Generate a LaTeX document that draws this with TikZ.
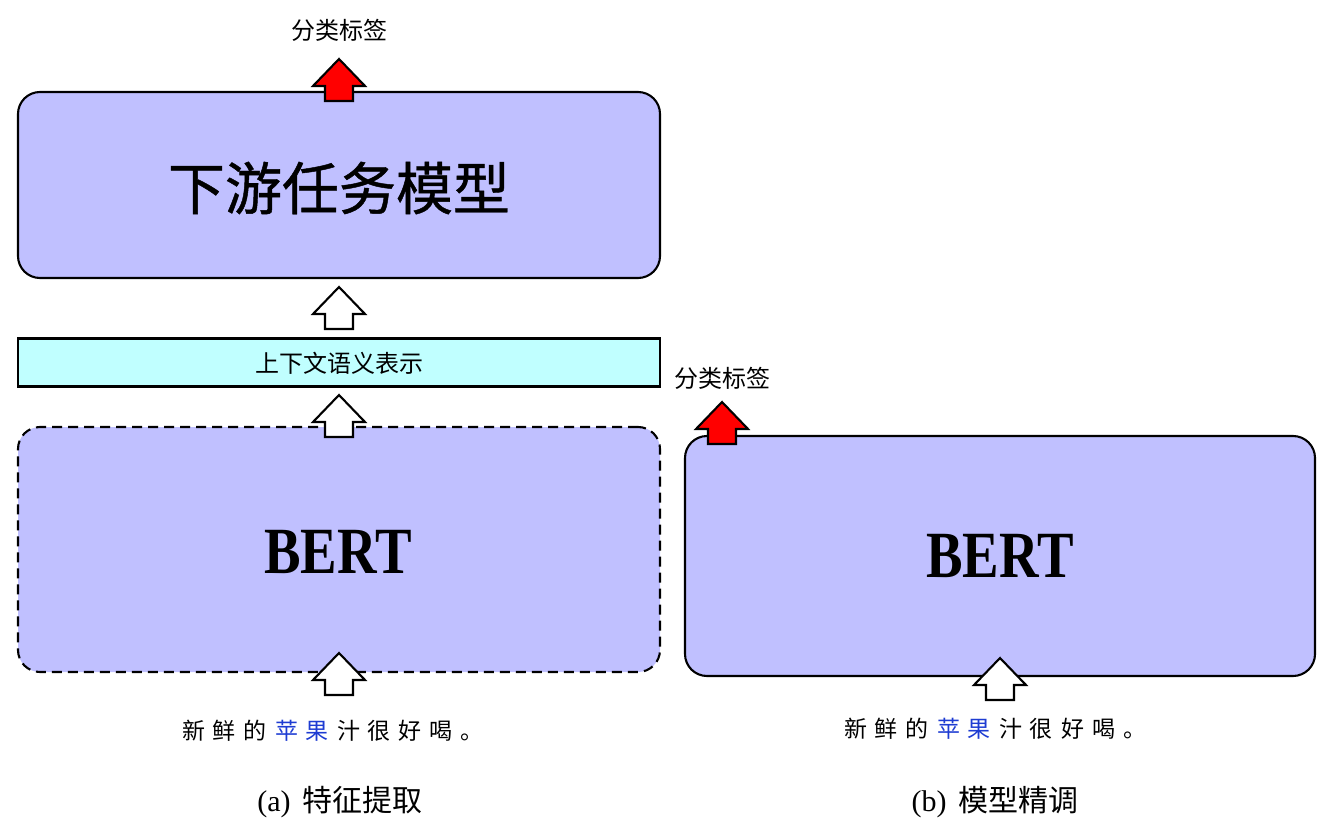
\documentclass[tikz,border=0pt]{standalone}
\usepackage{fontspec}
\setmainfont{Liberation Serif}
\newfontfamily\cjk{Noto Sans CJK SC}
\newfontfamily\cjkb[FakeBold=0.8]{Noto Sans CJK SC}
\usepackage{graphicx}
\definecolor{boxblue}{RGB}{192,192,255}
\definecolor{boxcyan}{RGB}{192,255,255}
\definecolor{wordblue}{RGB}{30,60,210}
\newcommand\gp{\hspace{8pt}}
\tikzset{
  bigbox/.style={draw=black, line width=2.1pt, fill=boxblue, rounded corners=22pt, inner sep=0pt},
  flatbox/.style={draw=black, line width=2.1pt, fill=boxcyan, inner sep=0pt},
  txt/.style={inner sep=0pt, text=black},
  pics/bigarrow/.style={code={
    \draw[line width=2.1pt, line join=miter, fill=#1]
      (0,0) -- (26,27) -- (14,27) -- (14,42) -- (-14,42) -- (-14,27) -- (-26,27) -- cycle;}}
}
\begin{document}
\begin{tikzpicture}[x=1pt,y=-1pt]
\useasboundingbox (0,0) rectangle (1337,834);
% left side boxes
\node[bigbox, minimum width=642pt, minimum height=186pt] (down) at (339,185) {};
\node[flatbox, minimum width=642pt, minimum height=48pt] (ctx) at (339,362.5) {};
\node[bigbox, dashed, dash pattern=on 10pt off 6pt, minimum width=642pt, minimum height=245pt] (bertl) at (339,549.5) {};
% right box
\node[bigbox, minimum width=630pt, minimum height=240pt] (bertr) at (1000,556) {};
% texts
\node[txt] (lblA) at (339,30) {\cjk\fontsize{24}{28}\selectfont 分类标签};
\node[txt] (downtxt) at (339,188) {\cjkb\fontsize{57}{62}\selectfont 下游任务模型};
\node[txt] (ctxtxt) at (339,363) {\cjk\fontsize{24}{28}\selectfont 上下文语义表示};
\node[txt] (bertltxt) at (338,552) {\fontsize{66}{70}\selectfont\bfseries\scalebox{0.83}[1]{BERT}};
\node[txt] (bertrtxt) at (1000,556) {\fontsize{66}{70}\selectfont\bfseries\scalebox{0.83}[1]{BERT}};
\node[txt] (lblB) at (722,378) {\cjk\fontsize{24}{28}\selectfont 分类标签};
\node[txt] (sentl) at (333,731) {\cjk\fontsize{23}{27}\selectfont 新\gp 鲜\gp 的\gp \textcolor{wordblue}{苹\gp 果}\gp 汁\gp 很\gp 好\gp 喝\gp 。};
\node[txt] (sentr) at (995,729) {\cjk\fontsize{23}{27}\selectfont 新\gp 鲜\gp 的\gp \textcolor{wordblue}{苹\gp 果}\gp 汁\gp 很\gp 好\gp 喝\gp 。};
\node[txt] (capA) at (340,802) {\fontsize{30}{34}\selectfont (a)\hspace{12pt}{\cjk 特征提取}};
\node[txt] (capB) at (995,802) {\fontsize{30}{34}\selectfont (b)\hspace{12pt}{\cjk 模型精调}};
% arrows
\pic at (339,59) {bigarrow=red};
\pic at (339,287) {bigarrow=white};
\pic at (339,395) {bigarrow=white};
\pic at (339,653) {bigarrow=white};
\pic at (722,402) {bigarrow=red};
\pic at (1000,658) {bigarrow=white};
\end{tikzpicture}
\end{document}
